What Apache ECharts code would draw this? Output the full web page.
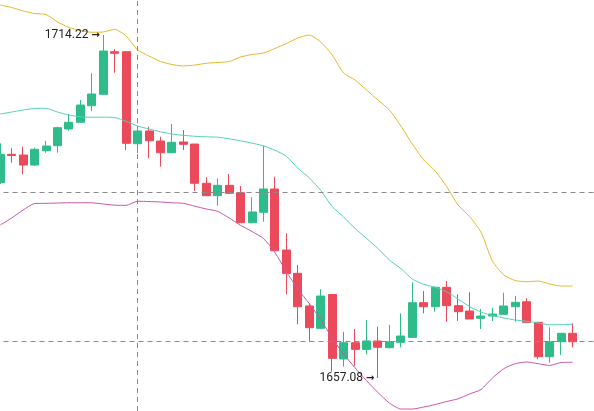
<!DOCTYPE html>
<html>
<head>
<meta charset="utf-8">
<script src="https://cdn.jsdelivr.net/npm/echarts@6/dist/echarts.min.js"></script>
<style>
  html, body { margin: 0; padding: 0; background: #fff; }
  #chart { width: 594px; height: 411px; }
</style>
</head>
<body>
<div id="chart"></div>
<script>
// 51 candles + 2 empty slots on the right
const categories = Array.from({ length: 53 }, (_, i) => String(i + 1))

const opens = [1689.62, 1694.35, 1694.23, 1692.56, 1694.95, 1695.78, 1698.56, 1699.68, 1702.44, 1704.34,
  1711.44, 1711.44, 1696.11, 1698.23, 1696.56, 1694.61, 1696.40, 1696.06, 1689.52, 1687.45,
  1689.18, 1687.95, 1682.95, 1684.69, 1688.57, 1678.40, 1674.52, 1669.08, 1665.36, 1670.99,
  1660.25, 1662.96, 1661.86, 1663.25, 1662.13, 1663.03, 1663.86, 1669.63, 1668.96, 1672.19,
  1669.13, 1668.24, 1667.03, 1667.41, 1667.69, 1668.96, 1669.79, 1666.36, 1660.63, 1663.13, 1664.53]
const closes = [1694.35, 1694.15, 1692.56, 1695.18, 1695.73, 1698.78, 1699.68, 1702.56, 1704.39, 1711.55,
  1711.17, 1696.18, 1698.23, 1696.61, 1694.61, 1696.35, 1696.01, 1689.52, 1687.45, 1689.18,
  1687.85, 1682.95, 1684.74, 1688.57, 1678.29, 1674.52, 1668.96, 1665.46, 1670.74, 1660.36,
  1662.96, 1661.86, 1663.25, 1662.20, 1663.13, 1664.08, 1669.63, 1668.96, 1672.19, 1669.13,
  1668.13, 1666.91, 1667.41, 1667.74, 1669.08, 1669.69, 1666.36, 1660.63, 1663.13, 1664.53, 1663.13]
const lows = [1689.40, 1692.95, 1691.02, 1692.40, 1694.61, 1694.61, 1698.28, 1699.64, 1701.56, 1704.34,
  1707.94, 1695.06, 1694.56, 1693.68, 1692.28, 1694.61, 1695.06, 1688.23, 1687.45, 1685.79,
  1687.85, 1682.95, 1682.85, 1683.12, 1678.29, 1671.03, 1666.03, 1663.13, 1665.36, 1658.13,
  1658.97, 1659.08, 1661.03, 1657.08, 1662.03, 1662.20, 1663.86, 1667.86, 1668.13, 1666.46,
  1666.58, 1666.91, 1665.24, 1666.58, 1667.69, 1666.46, 1666.36, 1660.20, 1659.63, 1660.91, 1662.20]
const highs = [1696.18, 1695.35, 1695.61, 1695.45, 1696.56, 1698.95, 1701.06, 1703.39, 1707.84, 1714.22,
  1711.89, 1711.49, 1699.06, 1698.94, 1697.28, 1699.39, 1698.39, 1696.06, 1690.52, 1690.35,
  1691.07, 1689.07, 1687.18, 1695.78, 1690.62, 1681.19, 1675.91, 1669.53, 1671.86, 1670.99,
  1664.79, 1665.24, 1666.75, 1665.63, 1665.91, 1667.86, 1673.03, 1671.57, 1672.30, 1673.24,
  1671.03, 1671.36, 1668.58, 1668.79, 1671.29, 1670.74, 1670.36, 1666.36, 1665.53, 1664.53, 1666.20]

// 布林带 上轨 / 中轨 / 下轨
const upperBand = [1719.22, 1718.80, 1718.22, 1717.80, 1717.63, 1716.39, 1715.47, 1714.97, 1714.67, 1714.72,
  1715.17, 1714.05, 1711.72, 1710.72, 1709.81, 1709.31, 1709.06, 1709.22, 1709.51, 1709.64,
  1709.81, 1710.56, 1710.97, 1711.22, 1711.97, 1712.80, 1713.72, 1714.22, 1713.05, 1710.89,
  1707.89, 1706.72, 1705.06, 1703.39, 1701.73, 1699.06, 1696.06, 1693.40, 1691.57, 1688.98,
  1685.90, 1683.99, 1681.40, 1676.57, 1674.24, 1673.32, 1673.12, 1673.24, 1672.74, 1672.41, 1672.41]
const middleBand = [1701.06, 1701.39, 1701.73, 1701.98, 1702.01, 1701.39, 1700.89, 1700.59, 1700.51, 1700.54,
  1700.48, 1699.84, 1699.06, 1698.56, 1698.11, 1697.73, 1697.51, 1697.35, 1697.26, 1697.20,
  1696.93, 1696.60, 1696.20, 1695.76, 1695.03, 1694.03, 1692.02, 1690.43, 1688.32, 1685.65,
  1683.90, 1681.99, 1680.35, 1678.66, 1676.74, 1675.32, 1673.57, 1672.69, 1672.19, 1671.46,
  1670.24, 1668.99, 1668.08, 1667.49, 1667.08, 1666.74, 1666.53, 1666.25, 1665.95, 1665.98, 1666.03]
const lowerBand = [1682.57, 1683.74, 1685.07, 1686.15, 1686.18, 1686.23, 1686.28, 1686.28, 1686.27, 1686.07,
  1685.87, 1685.85, 1686.53, 1686.48, 1686.40, 1686.28, 1686.18, 1685.70, 1685.24, 1684.84,
  1683.74, 1682.52, 1681.49, 1680.32, 1677.99, 1674.79, 1671.91, 1669.49, 1666.83, 1663.75,
  1661.08, 1658.78, 1656.65, 1654.67, 1652.92, 1651.92, 1651.92, 1652.25, 1652.67, 1653.17,
  1653.62, 1654.42, 1655.17, 1657.08, 1658.65, 1659.48, 1659.75, 1659.47, 1659.17, 1659.67, 1659.70]

// 虚线位置
const crossIndex = 12
const crossPrices = [1688.02, 1663.25]
// 最高 / 最低标注
const highIndex = 9
const highValue = 1714.22
const lowIndex = 33
const lowValue = 1657.08

const candleData = opens.map((o, i) => [o, closes[i], lows[i], highs[i]])

const chart = echarts.init(document.getElementById('chart'), null, { renderer: 'canvas' })

const bandLine = (name, data, color) => ({
  name,
  type: 'line',
  data,
  showSymbol: false,
  smooth: 0.2,
  silent: true,
  lineStyle: { color, width: 1 },
  z: 3
})

const noteLabel = {
  show: true,
  position: 'left',
  distance: 3,
  color: '#222',
  fontSize: 12,
  fontFamily: 'Roboto, "Noto Sans", sans-serif',
  rich: {
    a: { fontFamily: '"DejaVu Sans"', fontSize: 10, fontWeight: 'bold', color: '#222' }
  }
}

chart.setOption({
  animation: false,
  backgroundColor: '#fff',
  grid: { left: -5.47, top: 0, width: 606.6, height: 411, outerBoundsMode: 'none' },
  xAxis: {
    type: 'category',
    data: categories,
    show: false
  },
  yAxis: {
    type: 'value',
    min: 1651.59,
    max: 1720.05,
    show: false,
    splitLine: { show: false }
  },
  series: [
    {
      name: 'K',
      type: 'candlestick',
      data: candleData,
      barWidth: 8.5,
      itemStyle: {
        color: '#2ebd8a',
        color0: '#eb4a5b',
        borderColor: '#2ebd8a',
        borderColor0: '#eb4a5b',
        borderWidth: 1
      },
      markLine: {
        silent: true,
        symbol: ['none', 'none'],
        label: { show: false },
        lineStyle: { color: '#8a8a8a', type: [5, 4], width: 1 },
        data: [
          { xAxis: categories[crossIndex] },
          { yAxis: crossPrices[0] },
          { yAxis: crossPrices[1] }
        ]
      },
      markPoint: {
        silent: true,
        symbol: 'circle',
        symbolSize: 1,
        itemStyle: { color: 'rgba(0,0,0,0)' },
        data: [
          { coord: [categories[highIndex], highValue], label: { ...noteLabel, formatter: highValue.toFixed(2) + ' {a|→}' } },
          { coord: [categories[lowIndex], lowValue], label: { ...noteLabel, formatter: lowValue.toFixed(2) + ' {a|→}' } }
        ]
      }
    },
    bandLine('UP', upperBand, '#e6b82c'),
    bandLine('MID', middleBand, '#52d3b6'),
    bandLine('DN', lowerBand, '#c957a9')
  ]
})
</script>
</body>
</html>
